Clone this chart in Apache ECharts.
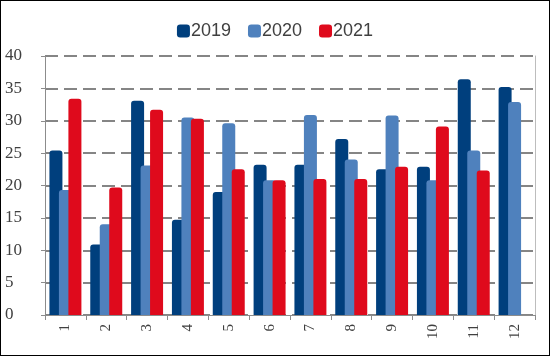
<!DOCTYPE html>
<html><head><meta charset="utf-8">
<script src="https://cdn.jsdelivr.net/npm/echarts@6/dist/echarts.min.js"></script>
<style>html,body{margin:0;padding:0;background:#fff}#c{width:550px;height:356px;box-sizing:border-box;border:1px solid #000}</style>
</head><body><div id="c"></div>
<script>
const categories = ['1','2','3','4','5','6','7','8','9','10','11','12'];
const s2019 = [25.4, 10.9, 33.1, 14.7, 19.0, 23.2, 23.2, 27.2, 22.5, 22.9, 36.4, 35.2];
const s2020 = [19.3, 14.0, 23.1, 30.5, 29.6, 20.8, 30.9, 24.0, 30.8, 20.8, 25.4, 32.9];
const s2021 = [33.4, 19.7, 31.7, 30.3, 22.5, 20.8, 21.0, 21.0, 22.9, 29.1, 22.3, null];
const seriesNames = ['2019','2020','2021'];
const colors = ['#003f7d','#4f81bd','#df0a1c'];

const chart = echarts.init(document.getElementById('c'));
const mk = (name, data, color) => ({
  name, type: 'bar', data, barWidth: 13, barGap: '-27%',
  itemStyle: { color, borderRadius: [3,3,0,0] }
});
chart.setOption({
  animation: false,
  color: colors,
  legend: {
    top: 16, left: 'center', itemWidth: 13, itemHeight: 13, itemGap: 17,
    icon: 'roundRect',
    textStyle: { fontFamily: 'Liberation Sans, Arial', fontSize: 18, color: '#404040', padding: [0,0,0,-4] },
    data: seriesNames
  },
  grid: { left: 44, right: 14, top: 55, bottom: 40 },
  xAxis: {
    type: 'category', data: categories,
    axisLine: { lineStyle: { color: '#8c8c8c', width: 1 } },
    axisTick: { show: true, interval: 0, length: 5, lineStyle: { color: '#8c8c8c' } },
    axisLabel: { rotate: 90, interval: 0, margin: 9, fontFamily: 'Liberation Serif, Times New Roman', fontSize: 15, color: '#404040' }
  },
  yAxis: [{
    type: 'value', min: 0, max: 40, interval: 5,
    axisLine: { show: true, lineStyle: { color: '#8c8c8c', width: 1 } },
    axisTick: { show: true, length: 4, lineStyle: { color: '#8c8c8c' } },
    axisLabel: { align: 'left', margin: 40, fontFamily: 'Liberation Serif, Times New Roman', fontSize: 17, color: '#404040' },
    splitLine: { show: true, lineStyle: { color: '#858585', width: 2, type: [13, 6] } }
  }, {
    type: 'value', min: 0, max: 40, interval: 5, position: 'right',
    axisLine: { show: true, lineStyle: { color: '#bdbdbd', width: 1 } },
    axisTick: { show: false }, axisLabel: { show: false }, splitLine: { show: false }
  }],
  series: [mk(seriesNames[0], s2019, colors[0]), mk(seriesNames[1], s2020, colors[1]), mk(seriesNames[2], s2021, colors[2])]
});
</script></body></html>
